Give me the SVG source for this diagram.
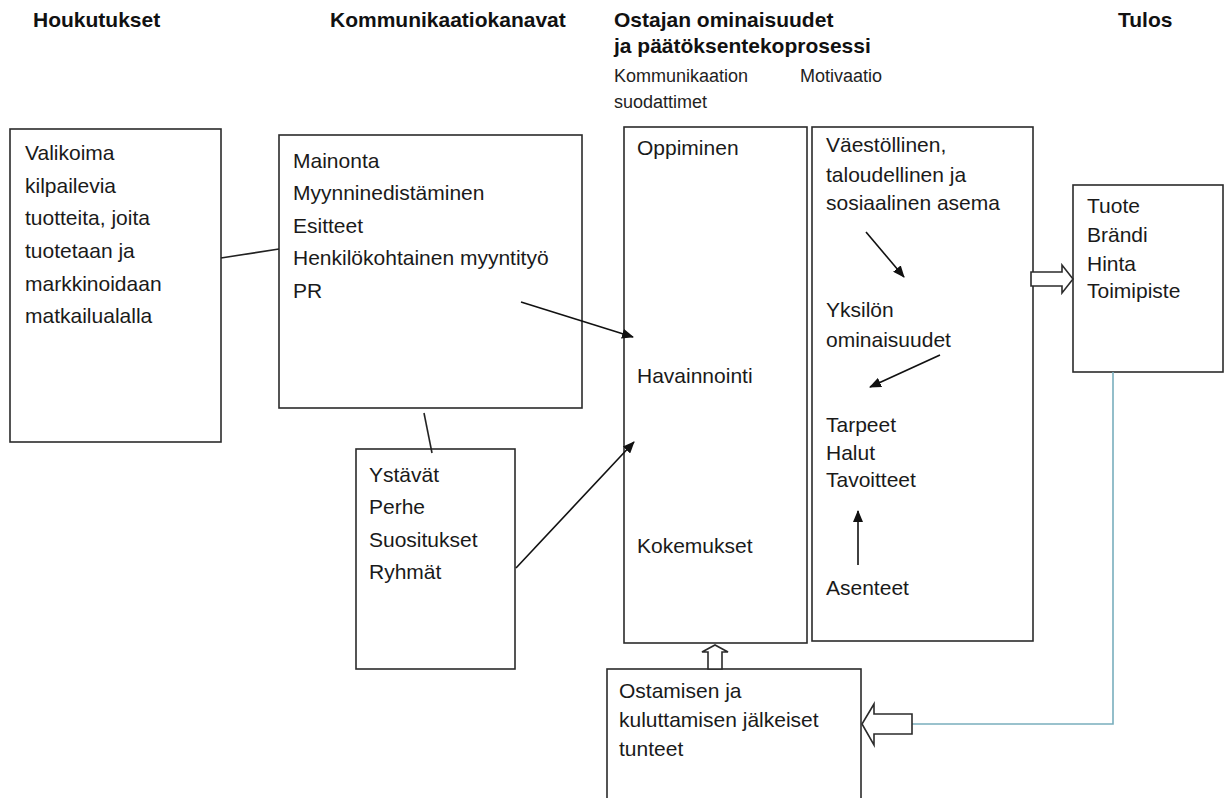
<svg xmlns="http://www.w3.org/2000/svg" width="1226" height="798" viewBox="0 0 1226 798">
<defs>
<style>
.bg{fill:#ffffff}
.box{fill:#ffffff;stroke:#2b2b2b;stroke-width:1.6}
.hdr{font-family:"Liberation Sans",Arial,sans-serif;font-weight:bold;font-size:21px;fill:#111}
.sub{font-family:"Liberation Sans",Arial,sans-serif;font-size:18px;fill:#222}
.t{font-family:"Liberation Sans",Arial,sans-serif;font-size:21px;fill:#1a1a1a}
.ln{fill:none;stroke:#222;stroke-width:1.6}
.arr{fill:none;stroke:#111;stroke-width:1.6;marker-end:url(#ah)}
.hollow{fill:#ffffff;stroke:#2b2b2b;stroke-width:1.6;stroke-linejoin:miter}
.teal{fill:none;stroke:#79aebd;stroke-width:1.6}
</style>
<marker id="ah" markerUnits="userSpaceOnUse" markerWidth="12" markerHeight="10" refX="11" refY="5" orient="auto">
<path d="M0,0 L12,5 L0,10 Z" fill="#111"/>
</marker>
</defs>
<rect class="bg" x="0" y="0" width="1226" height="798"/>

<g id="headers">
<text class="hdr" x="33" y="27">Houkutukset</text>
<text class="hdr" x="330" y="27">Kommunikaatiokanavat</text>
<text class="hdr" x="614" y="27">Ostajan ominaisuudet</text>
<text class="hdr" x="614" y="53">ja päätöksentekoprosessi</text>
<text class="hdr" x="1118" y="27">Tulos</text>
<text class="sub" x="614" y="82">Kommunikaation</text>
<text class="sub" x="800" y="82">Motivaatio</text>
<text class="sub" x="614" y="108">suodattimet</text>
</g>

<g id="node-houkutukset">
<rect class="box" x="10" y="129" width="211" height="313"/>
<text class="t" x="25" y="160">Valikoima</text>
<text class="t" x="25" y="193">kilpailevia</text>
<text class="t" x="25" y="225">tuotteita, joita</text>
<text class="t" x="25" y="258">tuotetaan ja</text>
<text class="t" x="25" y="291">markkinoidaan</text>
<text class="t" x="25" y="323">matkailualalla</text>
</g>

<g id="node-kanavat">
<rect class="box" x="279" y="135" width="303" height="273"/>
<text class="t" x="293" y="168">Mainonta</text>
<text class="t" x="293" y="200">Myynninedistäminen</text>
<text class="t" x="293" y="233">Esitteet</text>
<text class="t" x="293" y="265">Henkilökohtainen  myyntityö</text>
<text class="t" x="293" y="298">PR</text>
</g>

<g id="node-ystavat">
<rect class="box" x="356" y="449" width="159" height="220"/>
<text class="t" x="369" y="482">Ystävät</text>
<text class="t" x="369" y="514">Perhe</text>
<text class="t" x="369" y="547">Suositukset</text>
<text class="t" x="369" y="579">Ryhmät</text>
</g>

<g id="node-suodattimet">
<rect class="box" x="624" y="127" width="183" height="516"/>
<text class="t" x="637" y="155">Oppiminen</text>
<text class="t" x="637" y="383">Havainnointi</text>
<text class="t" x="637" y="553">Kokemukset</text>
</g>

<g id="node-motivaatio">
<rect class="box" x="812" y="127" width="221" height="514"/>
<text class="t" x="826" y="152">Väestöllinen,</text>
<text class="t" x="826" y="182">taloudellinen ja</text>
<text class="t" x="826" y="210">sosiaalinen asema</text>
<text class="t" x="826" y="317">Yksilön</text>
<text class="t" x="826" y="347">ominaisuudet</text>
<text class="t" x="826" y="432">Tarpeet</text>
<text class="t" x="826" y="460">Halut</text>
<text class="t" x="826" y="487">Tavoitteet</text>
<text class="t" x="826" y="595">Asenteet</text>
</g>

<g id="node-tulos">
<rect class="box" x="1073" y="185" width="150" height="187"/>
<text class="t" x="1087" y="213">Tuote</text>
<text class="t" x="1087" y="242">Brändi</text>
<text class="t" x="1087" y="271">Hinta</text>
<text class="t" x="1087" y="298">Toimipiste</text>
</g>

<g id="node-tunteet">
<rect class="box" x="607" y="669" width="254" height="140"/>
<text class="t" x="619" y="698">Ostamisen ja</text>
<text class="t" x="619" y="727">kuluttamisen jälkeiset</text>
<text class="t" x="619" y="756">tunteet</text>
</g>

<g id="connectors">
<line class="ln" x1="221" y1="258" x2="279" y2="249"/>
<line class="ln" x1="424" y1="413" x2="432" y2="453"/>
<line class="arr" x1="521" y1="302" x2="633" y2="337"/>
<line class="arr" x1="516" y1="568" x2="634" y2="442"/>
<line class="arr" x1="866" y1="232" x2="904" y2="277"/>
<line class="arr" x1="940" y1="355" x2="870" y2="387"/>
<line class="arr" x1="858" y1="565" x2="858" y2="511"/>
<path class="hollow" d="M1031,272 L1062,272 L1062,265 L1073,279 L1062,293 L1062,286 L1031,286 Z"/>
<path class="hollow" d="M708,669 L708,652 L702,652 L715,645 L728,652 L722,652 L722,669 Z"/>
<polyline class="teal" points="912,724 1113,724 1113,372"/>
<path class="hollow" d="M912,714 L874,714 L874,704 L862,724 L874,745 L874,734 L912,734 Z"/>
</g>
</svg>
